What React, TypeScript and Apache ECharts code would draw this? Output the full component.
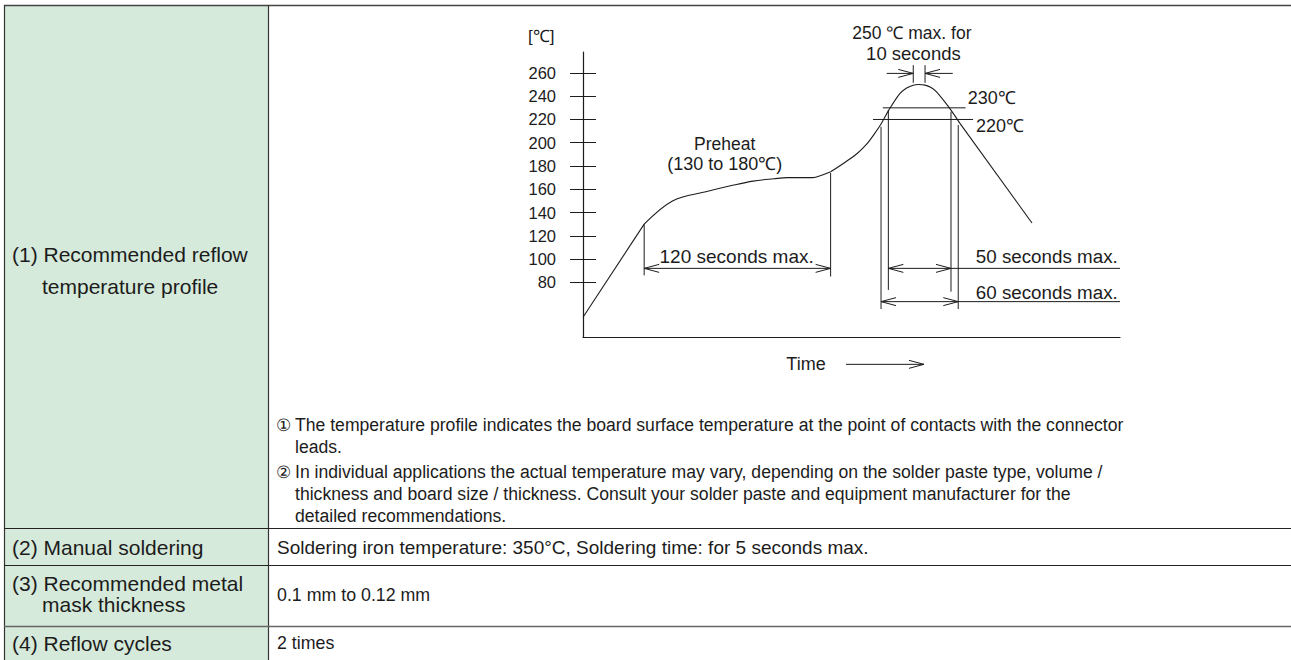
import React, { useEffect, useRef } from "react";
import * as echarts from "echarts";

const FONT = "'Liberation Sans', Arial, Helvetica, sans-serif";
const INK = "#1c1c1c";
const GREEN = "#d6eadb";

// ---- reflow profile (schematic time axis, temperature in °C) ----
const profileTime = [0, 41, 60, 83, 101, 114, 128, 137, 154, 160, 166, 176, 184, 190, 195, 200, 205, 212.5, 217, 221.4, 225, 229.3, 233.3, 237, 245, 252.7, 301];
const profileTemp = [50, 130, 150, 158, 163.6, 167, 169, 170, 170, 172, 175, 183.5, 191, 198.5, 207, 216.6, 228, 242.4, 247, 249.5, 250, 249.5, 247.5, 243.8, 231, 216.6, 131];
// profile segments (index ranges) and smoothness of each
const segStart = [0, 1, 10, 25];
const segEnd = [1, 10, 25, 26];
const segSmooth = [0, 0.35, 0.3, 0];

const yTickValues = [80, 100, 120, 140, 160, 180, 200, 220, 240, 260];
const Y_MIN = 33;
const Y_MAX = 278;
const T_MAX = 360;

// reference temperature levels
const levelTemps = [230, 220];
const levelFrom = [201, 194.4];
const levelTo = [256.5, 261.5];

// vertical marker lines
const vTimes = [41, 166, 199.8, 204.7, 246.7, 251.6, 221.4, 229.3];
const vLow = [86, 85, 57, 73.5, 72, 57, 251.5, 251.5];
const vHigh = [130, 174, 213.7, 228, 226.6, 215.2, 266.7, 266.7];

// dimension lines
const dimTemp = [92, 92, 63.4, 259.6, 259.6, 9.5];
const dimFrom = [41, 204.7, 199.8, 203.6, 229.3, 176.3];
const dimTo = [166, 360, 360, 221.4, 247.9, 228.6];
const dimHeads: number[][][] = [
  [[41, -1], [166, 1]],
  [[204.7, -1], [246.7, 1]],
  [[199.8, -1], [251.6, 1]],
  [[221.4, 1]],
  [[229.3, -1]],
  [[228.6, 1]],
];

// chart annotation texts
const annText = ["[℃]", "Preheat", "(130 to 180℃)", "120 seconds max.", "250 ℃ max. for", "10 seconds", "230℃", "220℃", "50 seconds max.", "60 seconds max.", "Time"];
const annTime = [-28, 95, 95, 103, 220.5, 221.5, 258, 263.5, 358.5, 358.5, 149.5];
const annTemp = [291.5, 199, 181.5, 102.5, 294, 277, 238.5, 214.5, 102, 71, 9.5];
const annAlign = ["center", "center", "center", "center", "center", "center", "left", "left", "right", "right", "center"];
const annSize = [17, 17.5, 18, 19, 17.5, 18.5, 18, 18, 18.8, 18.8, 18];

// table texts
const rowTitles = [
  ["(1) Recommended reflow", "temperature profile"],
  ["(2) Manual soldering"],
  ["(3) Recommended metal", "mask thickness"],
  ["(4) Reflow cycles"],
];
const rowTexts = ["", "Soldering iron temperature: 350°C, Soldering time: for 5 seconds max.", "0.1 mm to 0.12 mm", "2 times"];
const noteMarks = ["①", "②"];
const noteLines = [
  ["The temperature profile indicates the board surface temperature at the point of contacts with the connector", "leads."],
  ["In individual applications the actual temperature may vary, depending on the solder paste type, volume /", "thickness and board size / thickness. Consult your solder paste and equipment manufacturer for the", "detailed recommendations."],
];

const W = 1291;
const H = 660;

export default function App() {
  const ref = useRef<HTMLDivElement>(null);
  useEffect(() => {
    const el = ref.current!;
    const chart = echarts.init(el, null, { renderer: "svg", width: W, height: H });
    const axisLine = { color: INK, width: 1.2 };
    chart.setOption({
      animation: false,
      grid: { left: 583, top: 52, right: W - 1120, bottom: H - 337, containLabel: false },
      xAxis: {
        type: "value", min: 0, max: T_MAX,
        axisLine: { show: true, onZero: false, lineStyle: axisLine },
        axisTick: { show: false }, axisLabel: { show: false }, splitLine: { show: false },
      },
      yAxis: [
        {
          type: "value", min: Y_MIN, max: Y_MAX,
          axisLine: { show: true, onZero: false, lineStyle: axisLine },
          axisTick: { show: true, length: 13, customValues: yTickValues, lineStyle: { color: INK, width: 1 } },
          axisLabel: { show: true, customValues: yTickValues, margin: 27, fontSize: 16.5, color: INK, fontFamily: FONT },
          splitLine: { show: false },
        },
        {
          type: "value", min: Y_MIN, max: Y_MAX, position: "left",
          axisLine: { show: false },
          axisTick: { show: true, inside: true, length: 13, customValues: yTickValues, lineStyle: { color: INK, width: 1 } },
          axisLabel: { show: false },
          splitLine: { show: false },
        },
      ],
      series: segStart.map((s, k) => ({
        type: "line",
        data: profileTime.slice(s, segEnd[k] + 1).map((t, i) => [t, profileTemp[s + i]]),
        smooth: segSmooth[k] || false,
        symbol: "none",
        showSymbol: false,
        silent: true,
        lineStyle: { color: INK, width: 1.1 },
      })),
    });

    const px = (t: number, T: number) => chart.convertToPixel({ gridIndex: 0 }, [t, T]) as number[];
    const g: any[] = [];
    const line = (x1: number, y1: number, x2: number, y2: number, stroke = INK, lw = 1) =>
      g.push({ type: "line", silent: true, shape: { x1, y1, x2, y2 }, style: { stroke, lineWidth: lw } });
    const text = (s: string, x: number, y: number, align: string, size = 18) =>
      g.push({
        type: "text", silent: true, x, y,
        style: { text: s, fill: INK, fontSize: size, fontFamily: FONT, align, verticalAlign: "middle", textAlign: align, textVerticalAlign: "middle" },
      });

    // ---- table ----
    g.push({ type: "rect", silent: true, z: -10, shape: { x: 4, y: 5, width: 264, height: H - 5 }, style: { fill: GREEN } });
    line(4, 5.5, W, 5.5, "#444", 1.6);
    line(4.5, 5, 4.5, H, "#333", 1.2);
    line(268.5, 5, 268.5, H, "#333", 1.2);
    line(4, 528.5, W, 528.5, "#222", 1.2);
    line(4, 565.5, W, 565.5, "#222", 1.2);
    line(4, 626.5, W, 626.5, "#666", 1.6);

    const titleY = [[254, 286], [547], [583, 604], [643]];
    const valueY = [0, 547, 595, 643];
    const valueSize = [0, 19, 17.8, 17.8];
    rowTitles.forEach((lines, r) => {
      lines.forEach((s, k) => text(s, k === 0 ? 12 : 42, titleY[r][k], "left", 21));
      if (rowTexts[r]) text(rowTexts[r], 277, valueY[r], "left", valueSize[r]);
    });
    const noteY = [[425, 447], [472, 494, 516]];
    noteLines.forEach((lines, n) => {
      text(noteMarks[n], 276, noteY[n][0], "left", 17);
      lines.forEach((s, k) => text(s, 295, noteY[n][k], "left", 17.6));
    });

    // ---- chart annotations ----
    levelTemps.forEach((T, i) => {
      const a = px(levelFrom[i], T), b = px(levelTo[i], T);
      line(a[0], a[1], b[0], b[1]);
    });
    vTimes.forEach((t, i) => {
      const a = px(t, vLow[i]), b = px(t, vHigh[i]);
      const outer = i === 2 || i === 5;
      line(a[0], a[1], b[0], b[1], outer ? "#555" : INK, outer ? 1.3 : 1);
    });
    dimTemp.forEach((T, i) => {
      const a = px(dimFrom[i], T), b = px(dimTo[i], T);
      line(a[0], a[1], b[0], b[1]);
      dimHeads[i].forEach(([t, dir]) => {
        const p = px(t, T);
        g.push({
          type: "polyline", silent: true,
          shape: { points: [[p[0] - dir * 15, p[1] - 4], [p[0], p[1]], [p[0] - dir * 15, p[1] + 4]] },
          style: { stroke: INK, fill: "none", lineWidth: 1 },
        });
      });
    });
    annText.forEach((s, i) => {
      const p = px(annTime[i], annTemp[i]);
      text(s, p[0], p[1], annAlign[i], annSize[i]);
    });

    chart.setOption({ graphic: { elements: g } });
    return () => chart.dispose();
  }, []);
  return <div ref={ref} style={{ position: "absolute", left: 0, top: 0, width: W, height: H, background: "#fff" }} />;
}
